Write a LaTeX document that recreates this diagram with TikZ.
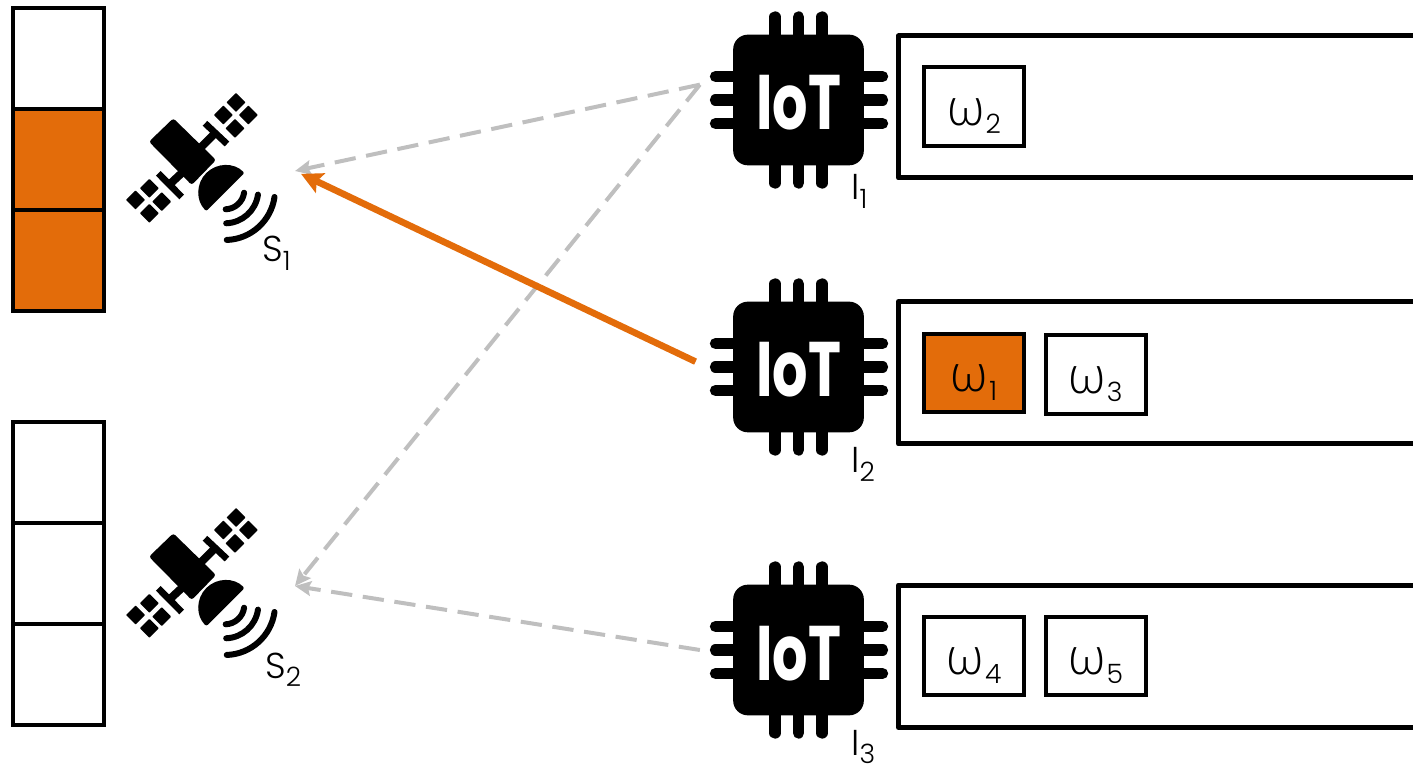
\documentclass[tikz,border=0pt]{standalone}
\usepackage{fontspec}
\setmainfont{Poppins Light}
\newfontfamily\chipfont{Poppins}
\newfontfamily\omegafont{Open Sans Light}
\usetikzlibrary{positioning,arrows.meta}
\definecolor{darkorange}{RGB}{227,108,10}
\definecolor{linkgrey}{RGB}{191,191,191}
\newcommand{\lowidx}[1]{\raisebox{-6.5pt}{\fontsize{20}{20}\selectfont #1}}
\newcommand{\weight}[1]{\smash{\raisebox{-14pt}{{\omegafont\fontsize{38}{38}\selectfont ω}\kern1pt\lowidx{#1}}}}

\tikzset{
	slot/.style={draw,line width=3pt,minimum width=68.5pt,minimum height=75.75pt,outer sep=0pt,inner sep=0pt},
	task/.style={draw,line width=3pt,minimum width=75pt,minimum height=59pt,inner sep=0pt},
	queue/.style={line width=3.75pt,line join=round},
	pin/.style={line width=8.5pt,line cap=round},
	lab/.style={anchor=base west,inner sep=0pt,font=\fontsize{27}{30}\selectfont},
	link/.style={linkgrey,line width=3pt,dash pattern=on 16pt off 8pt,-{Stealth[length=12pt,width=11pt,inset=2pt]}},
	used/.style={fill=darkorange},
	chip/.pic={
		\foreach \d in {-23.5,0,23.5} {
			\draw[pin] (-83,\d) -- (84,\d);
			\draw[pin] (\d,-83) -- (\d,83);
		}
		\node[fill=black,rounded corners=11pt,minimum size=98pt,inner sep=0pt,text=white,font=\chipfont\bfseries\fontsize{58}{58}\selectfont] (-body) {\smash{\raisebox{-22.5pt}{\scalebox{.72}[1]{IoT}}}};
	},
	sat/.pic={
		\coordinate (-in) at (70,19);
		\fill[rounded corners=2pt] (-51.7,71.7) -- (-76,48.3) -- (-33.3,5) -- (-9,30) -- cycle;
		\draw[line width=5pt] (-20,66.7) -- (2,46) (-66.7,16.7) -- (-43.3,-7);
		\draw[line width=6pt] (-10,56.7) -- (-25,41.7) (-55,6) -- (-40,20);
		\foreach \x/\y in {11/87.5,-1.7/75,23.3/75,10/61.7,-89.5/-10,-75.7/1.7,-63.3/-11.7,-75.7/-23.3}
			\fill[rounded corners=.5pt] (\x,\y) +(-9.5,0) -- +(0,9.5) -- +(9.5,0) -- +(0,-9.5) -- cycle;
		\fill[rounded corners=1.5pt] (19.5,17) arc[start angle=45,end angle=225,radius=27] -- cycle;
		\foreach \r in {19.3,33.3,50}
			\draw[line width=4.5pt,line cap=round] (-88:\r) arc[start angle=-88,end angle=-8,radius=\r*0.75pt];
	}
}

\begin{document}
\begin{tikzpicture}[x=0.75pt,y=0.75pt]
	\useasboundingbox (0,0) rectangle (1413,768);

	% memory of the satellites
	\node[slot] (a1) at (58.5,709.5) {};
	\node[slot,used,below=0pt of a1] (a2) {};
	\node[slot,used,below=0pt of a2] (a3) {};
	\node[slot] (b1) at (58.5,295.5) {};
	\node[slot,below=0pt of b1] (b2) {};
	\node[slot,below=0pt of b2] (b3) {};

	\pic (s1) at (225,578) {sat};
	\pic (s2) at (225,163) {sat};
	\node[lab] (s1lab) at (262,506) {S\lowidx{1}};
	\node[lab] (s2lab) at (265,90) {S\lowidx{2}};

	\pic (i1) at (798.5,668) {chip};
	\pic (i2) at (798.5,401) {chip};
	\pic (i3) at (798.5,118) {chip};
	\node[lab] (i1lab) at (851,568) {I\lowidx{1}};
	\node[lab] (i2lab) at (851,295) {I\lowidx{2}};
	\node[lab] (i3lab) at (851,13) {I\lowidx{3}};

	\draw[queue] (1413,732) -| (898.5,590) -- (1413,590);
	\draw[queue] (1413,466.5) -| (898.5,324) -- (1413,324);
	\draw[queue] (1413,183) -| (898.5,40.5) -- (1413,40.5);

	\node[task] (w2) at (974,661.5) {\weight{2}};
	\node[task,used] (w1) at (974,395) {\weight{1}};
	\node[task] (w3) at (1095.5,393.5) {\weight{3}};
	\node[task] (w4) at (974,112) {\weight{4}};
	\node[task] (w5) at (1095.5,112) {\weight{5}};

	\coordinate (i1out) at ([xshift=-24.75pt,yshift=11.5pt]i1-body.west);
	\coordinate (i2out) at ([xshift=-28pt,yshift=4pt]i2-body.west);
	\coordinate (i3out) at ([xshift=-24.75pt]i3-body.west);
	\draw[link] (i1out) -- (s1-in);
	\draw[link] (i1out) -- (s2-in);
	\draw[link] (i3out) -- (s2-in);
	\draw[darkorange,line width=5pt,-{Stealth[length=16pt,width=16pt,inset=3pt]},shorten >=5pt] (i2out) -- (s1-in);
\end{tikzpicture}
\end{document}
